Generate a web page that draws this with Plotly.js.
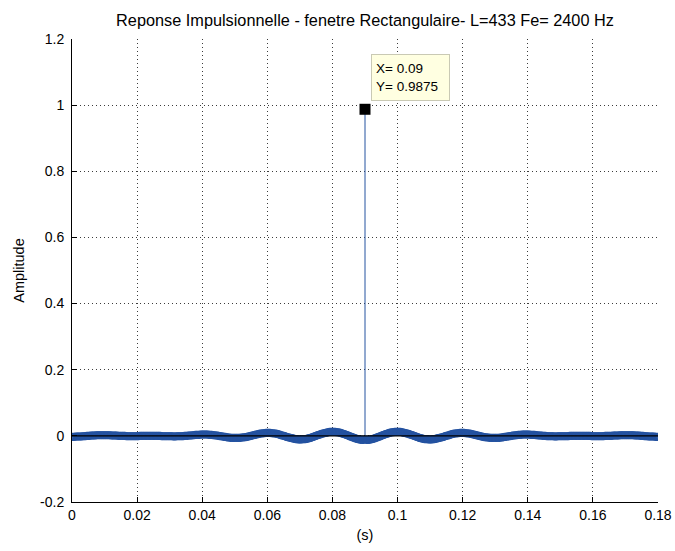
<!DOCTYPE html>
<html>
<head>
<meta charset="utf-8">
<script src="https://cdn.plot.ly/plotly-3.0.1.min.js"></script>
<style>html,body{margin:0;padding:0;background:#fff;}#chart{width:675px;height:551px;}</style>
</head>
<body>
<div id="chart"></div>
<script>
// Sampling
const Fe = 2400;          // Hz
const L = 433;            // number of taps

// Impulse response samples (before the peak, the peak, after the peak)
const hBefore = [
-0.003,-0.003,-0.003,-0.002,-0.002,-0.002,
-0.002,-0.002,-0.001,-0.001,-0.001,0,0,0,0.001,0.001,
0.001,0.001,0.002,0.002,0.002,0.002,0.002,0.002,0.002,0.002,
0.002,0.002,0.002,0.001,0.001,0.001,0.001,0.001,0,0,
0,0,0,0,-0.001,-0.001,-0.001,-0.001,-0.001,-0.001,
-0.001,-0.001,-0.001,-0.001,0,0,0,0,0,0,
0,0,0,0,0,0,0,0,0,0,
-0.001,-0.001,-0.001,-0.001,-0.001,-0.001,-0.001,-0.001,-0.001,-0.002,
-0.002,-0.001,-0.001,-0.001,-0.001,-0.001,-0.001,0,0,0,
0.001,0.001,0.001,0.002,0.002,0.003,0.003,0.003,0.003,0.004,
0.004,0.004,0.004,0.004,0.004,0.003,0.003,0.003,0.002,0.002,
0.001,0.001,0,-0.001,-0.001,-0.002,-0.003,-0.003,-0.004,-0.005,
-0.005,-0.006,-0.006,-0.006,-0.006,-0.006,-0.006,-0.006,-0.006,-0.005,
-0.005,-0.004,-0.004,-0.003,-0.002,-0.001,0,0.001,0.002,0.003,
0.004,0.005,0.006,0.007,0.007,0.008,0.008,0.009,0.009,0.009,
0.009,0.008,0.008,0.007,0.007,0.006,0.005,0.004,0.002,0.001,
0,-0.001,-0.003,-0.004,-0.005,-0.006,-0.007,-0.008,-0.009,-0.010,
-0.010,-0.011,-0.011,-0.011,-0.010,-0.010,-0.010,-0.009,-0.008,-0.007,
-0.006,-0.004,-0.003,-0.001,0,0.002,0.003,0.004,0.006,0.007,
0.008,0.009,0.010,0.011,0.012,0.012,0.012,0.012,0.012,0.011,
0.011,0.010,0.009,0.007,0.006,0.005,0.003,0.002,0,-0.002,
-0.003,-0.005,-0.006,-0.008,-0.009,-0.010,-0.011,-0.012,-0.012,-0.012
];
const hPeak = [0.9875];
const hAfter = [
-0.012,-0.012,-0.012,-0.011,-0.010,-0.009,-0.008,-0.006,-0.005,-0.003,
-0.002,0,0.002,0.003,0.005,0.006,0.007,0.009,0.010,0.011,
0.011,0.012,0.012,0.012,0.012,0.012,0.011,0.010,0.009,0.008,
0.007,0.006,0.004,0.003,0.002,0,-0.001,-0.003,-0.004,-0.006,
-0.007,-0.008,-0.009,-0.010,-0.010,-0.010,-0.011,-0.011,-0.011,-0.010,
-0.010,-0.009,-0.008,-0.007,-0.006,-0.005,-0.004,-0.003,-0.001,0,
0.001,0.002,0.004,0.005,0.006,0.007,0.007,0.008,0.008,0.009,
0.009,0.009,0.009,0.008,0.008,0.007,0.007,0.006,0.005,0.004,
0.003,0.002,0.001,0,-0.001,-0.002,-0.003,-0.004,-0.004,-0.005,
-0.005,-0.006,-0.006,-0.006,-0.006,-0.006,-0.006,-0.006,-0.006,-0.005,
-0.005,-0.004,-0.003,-0.003,-0.002,-0.001,-0.001,0,0.001,0.001,
0.002,0.002,0.003,0.003,0.003,0.004,0.004,0.004,0.004,0.004,
0.004,0.003,0.003,0.003,0.003,0.002,0.002,0.001,0.001,0.001,
0,0,0,-0.001,-0.001,-0.001,-0.001,-0.001,-0.001,-0.002,
-0.002,-0.001,-0.001,-0.001,-0.001,-0.001,-0.001,-0.001,-0.001,-0.001,
0,0,0,0,0,0,0,0,0,0,
0,0,0,0,0,0,-0.001,-0.001,-0.001,-0.001,
-0.001,-0.001,-0.001,-0.001,-0.001,-0.001,0,0,0,0,
0,0,0.001,0.001,0.001,0.001,0.001,0.002,0.002,0.002,
0.002,0.002,0.002,0.002,0.002,0.002,0.002,0.002,0.001,0.001,
0.001,0.001,0,0,0,-0.001,-0.001,-0.001,-0.002,-0.002,
-0.002,-0.002,-0.002,-0.003,-0.003,-0.003
];

const xTickVals = [0, 0.02, 0.04, 0.06, 0.08, 0.1, 0.12, 0.14, 0.16, 0.18];
const xTickText = ['0', '0.02', '0.04', '0.06', '0.08', '0.1', '0.12', '0.14', '0.16', '0.18'];
const yTickVals = [-0.2, 0, 0.2, 0.4, 0.6, 0.8, 1, 1.2];
const yTickText = ['-0.2', '0', '0.2', '0.4', '0.6', '0.8', '1', '1.2'];

const titleText = 'Reponse Impulsionnelle - fenetre Rectangulaire- L=' + L + ' Fe= ' + Fe + ' Hz';

// Build the series
const h = hBefore.concat(hPeak, hAfter);
const t = h.map((_, n) => n / Fe);

const stemX = [], stemY = [];
for (let i = 0; i < h.length; i++) {
  stemX.push(t[i], t[i], null);
  stemY.push(0, h[i], null);
}
let iMax = 0;
for (let i = 1; i < h.length; i++) if (h[i] > h[iMax]) iMax = i;
const tipX = t[iMax], tipY = h[iMax];

const BLUE = '#2452a0';
const FONT = 'Liberation Sans, Arial, Helvetica, sans-serif';

const traces = [
  { type: 'scatter', mode: 'lines', x: stemX, y: stemY,
    line: { color: BLUE, width: 1 }, hoverinfo: 'skip', showlegend: false },
  { type: 'scatter', mode: 'markers', x: t, y: h,
    marker: { symbol: 'circle-open', size: 6.5, color: BLUE, line: { width: 1.6, color: BLUE } },
    showlegend: false },
  { type: 'scatter', mode: 'lines', x: [t[0], t[t.length - 1]], y: [0, 0],
    line: { color: '#000', width: 1.3 }, hoverinfo: 'skip', showlegend: false },
  { type: 'scatter', mode: 'markers', x: [tipX], y: [tipY],
    marker: { symbol: 'square', size: 11, color: '#000', line: { width: 0 } },
    showlegend: false }
];

const axisCommon = {
  showline: true, linecolor: '#000', linewidth: 1, mirror: false,
  ticks: 'inside', ticklen: 5, tickwidth: 1, tickcolor: '#000',
  showgrid: true, gridcolor: '#3c3c3c', gridwidth: 1, griddash: '1px,3px',
  zeroline: false, tickmode: 'array',
  tickfont: { family: FONT, size: 14, color: '#000' }
};

const layout = {
  width: 675, height: 551,
  margin: { l: 72, r: 17, t: 39, b: 49, pad: 0 },
  paper_bgcolor: '#fff', plot_bgcolor: '#fff',
  showlegend: false,
  font: { family: FONT, color: '#000' },
  title: { text: titleText, font: { family: FONT, size: 16.3, color: '#000' },
           x: 0.5, xanchor: 'center', y: 1 - 20 / 551, yanchor: 'middle', xref: 'paper', yref: 'container' },
  xaxis: Object.assign({}, axisCommon, {
    range: [0, 0.18], tickvals: xTickVals, ticktext: xTickText,
    title: { text: '(s)', font: { family: FONT, size: 14.5, color: '#000' }, standoff: 8 }
  }),
  yaxis: Object.assign({}, axisCommon, {
    range: [-0.2, 1.2], tickvals: yTickVals, ticktext: yTickText,
    ticklabelstandoff: 4,
    title: { text: 'Amplitude', font: { family: FONT, size: 14.5, color: '#000' }, standoff: 12 }
  }),
  annotations: [{
    x: tipX, y: tipY, xref: 'x', yref: 'y', showarrow: false,
    xanchor: 'left', yanchor: 'bottom', xshift: 6, yshift: 8,
    text: 'X= ' + tipX + '<br>Y= ' + tipY,
    align: 'left', valign: 'middle',
    font: { family: FONT, size: 13.5, color: '#000' },
    bgcolor: '#ffffe1', bordercolor: '#c9c9b4', borderwidth: 1, borderpad: 4,
    width: 69, height: 37
  }]
};

Plotly.newPlot('chart', traces, layout, { staticPlot: true, displayModeBar: false });
</script>
</body>
</html>
